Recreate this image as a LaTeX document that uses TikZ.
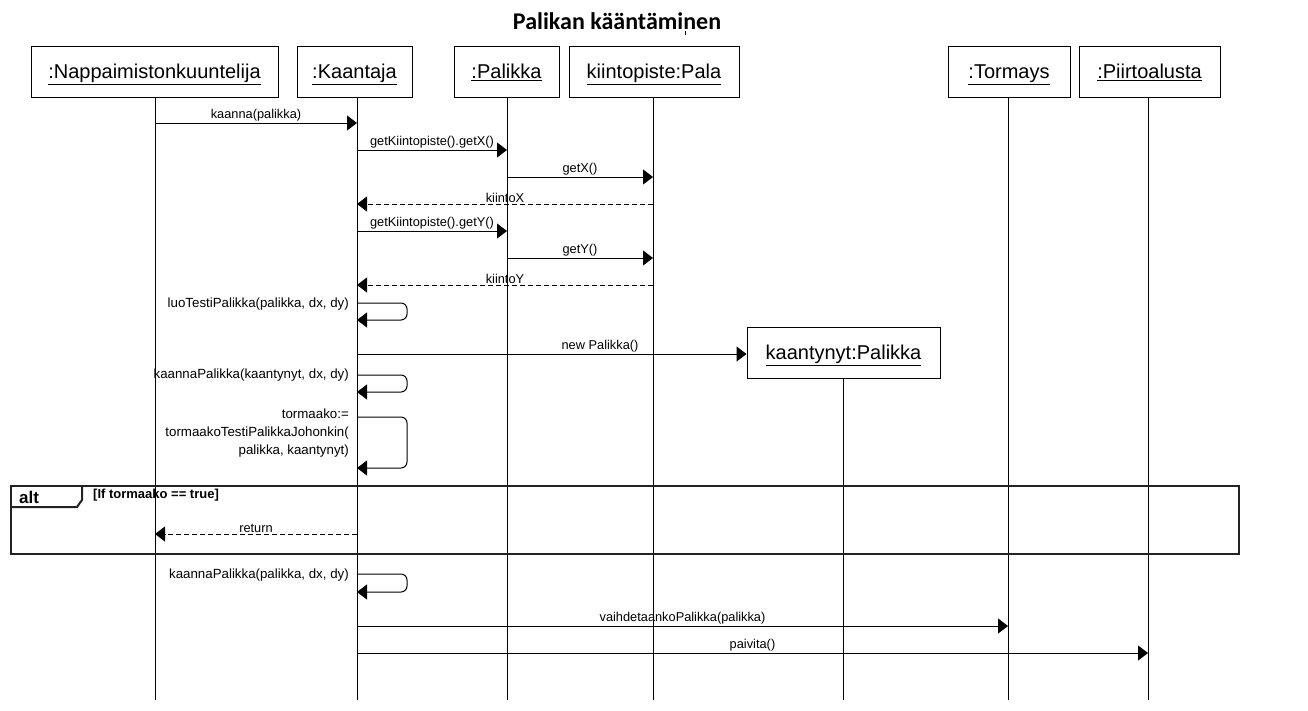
\documentclass[tikz,border=0pt]{standalone}
\usepackage{fontspec}
\setmainfont{Liberation Sans}
\newfontfamily\titlefont{Carlito}
\usetikzlibrary{arrows.meta}
\begin{document}
\begin{tikzpicture}[x=1pt,y=-1pt,
 objbox/.style={draw, line width=1pt, inner sep=0pt, text height=14.3pt, text depth=0pt, font=\fontsize{20}{24}\selectfont},
 lifeline/.style={line width=1pt},
 msg/.style={line width=1pt, -{Triangle[length=10pt,width=15pt]}},
 retmsg/.style={msg, dash pattern=on 5pt off 3pt},
 mlabel/.style={font=\fontsize{12.8}{15}\selectfont, inner sep=1pt, anchor=south},
 slabel/.style={font=\fontsize{13.3}{18}\selectfont, inner sep=0pt, anchor=east, align=right},
 selfloop/.style={msg, rounded corners=6pt},
 altframe/.style={line width=2pt, draw={rgb,255:red,35;green,35;blue,35}},
]
\useasboundingbox (0,0) rectangle (1308,710);
\fill[white] (0,0) rectangle (1308,710);

% title
\node[font=\titlefont\bfseries\fontsize{24}{28}\selectfont] (title) at (617,21) {Palikan kääntäminen};
\draw[line width=0.8pt] (685,31) -- (685,35);

% object boxes
\node[objbox, minimum width=247pt, minimum height=51pt] (nap) at (154.5,71.5) {\underline{:Nappaimistonkuuntelija}};
\node[objbox, minimum width=115pt, minimum height=51pt] (kaa) at (354.5,71.5) {\underline{:Kaantaja}};
\node[objbox, minimum width=105pt, minimum height=51pt] (pal) at (506.5,71.5) {\underline{:Palikka}};
\node[objbox, minimum width=170pt, minimum height=51pt] (kii) at (654,71.5) {\underline{kiintopiste:Pala}};
\node[objbox, minimum width=122pt, minimum height=51pt] (tor) at (1009,71.5) {\underline{:Tormays}};
\node[objbox, minimum width=141pt, minimum height=51pt] (pii) at (1149.5,71.5) {\underline{:Piirtoalusta}};
\node[objbox, minimum width=193pt, minimum height=51pt] (kan) at (843.5,352.5) {\underline{kaantynyt:Palikka}};

% lifeline tops
\coordinate (Ln) at (155,97);
\coordinate (Lk) at (357,97);
\coordinate (Lp) at (507,97);
\coordinate (Li) at (653,97);
\coordinate (Lt) at (1008,97);
\coordinate (Lq) at (1148,97);
\coordinate (Lc) at (843,378);

% alt frame guard (under lifelines)
\node[font=\bfseries\fontsize{13}{14}\selectfont, anchor=west, inner sep=0pt] (guard) at (93,495) {[If tormaako == true]};

% lifelines
\foreach \l in {Ln,Lk,Lp,Li,Lt,Lq,Lc}
  \draw[lifeline] (\l) -- (\l |- 0,700);

% messages
\draw[msg] (Ln |- 0,123) -- node[mlabel]{kaanna(palikka)} (Lk |- 0,123);
\draw[msg] (Lk |- 0,150) -- node[mlabel]{getKiintopiste().getX()} (Lp |- 0,150);
\draw[msg] (Lp |- 0,177) -- node[mlabel]{getX()} (Li |- 0,177);
\draw[retmsg] (Li |- 0,204) -- node[mlabel]{kiintoX} (Lk |- 0,204);
\draw[msg] (Lk |- 0,231) -- node[mlabel]{getKiintopiste().getY()} (Lp |- 0,231);
\draw[msg] (Lp |- 0,258) -- node[mlabel]{getY()} (Li |- 0,258);
\draw[retmsg] (Li |- 0,285) -- node[mlabel]{kiintoY} (Lk |- 0,285);

\draw[selfloop] (Lk |- 0,303) -- ++(50,0) -- ++(0,17) -- ++(-50,0);
\node[slabel] (s1) at (349,304) {luoTestiPalikka(palikka, dx, dy)};

\draw[msg] (Lk |- 0,354) -- (kan.west |- 0,354);
\node[mlabel] (newp) at (600,353) {new Palikka()};

\draw[selfloop] (Lk |- 0,375) -- ++(50,0) -- ++(0,17) -- ++(-50,0);
\node[slabel] (s2) at (349,375) {kaannaPalikka(kaantynyt, dx, dy)};

\draw[selfloop] (Lk |- 0,417) -- ++(50,0) -- ++(0,51) -- ++(-50,0);
\node[slabel, anchor=north east] (s3) at (349,409) {tormaako:=\\tormaakoTestiPalikkaJohonkin(\\palikka, kaantynyt)};

% alt frame
\draw[altframe] (11,486) rectangle (1239,554);
\draw[altframe] (11,507) -- (77,507) -- (82,500) -- (82,486);
\node[font=\bfseries\fontsize{17}{18}\selectfont, anchor=west, inner sep=0pt] (altl) at (19,497) {alt};

\draw[retmsg] (Lk |- 0,534) -- node[mlabel]{return} (Ln |- 0,534);

\draw[selfloop] (Lk |- 0,574) -- ++(50,0) -- ++(0,18) -- ++(-50,0);
\node[slabel] (s4) at (349,575) {kaannaPalikka(palikka, dx, dy)};

\draw[msg] (Lk |- 0,626) -- node[mlabel]{vaihdetaankoPalikka(palikka)} (Lt |- 0,626);
\draw[msg] (Lk |- 0,653) -- node[mlabel]{paivita()} (Lq |- 0,653);
\end{tikzpicture}
\end{document}
